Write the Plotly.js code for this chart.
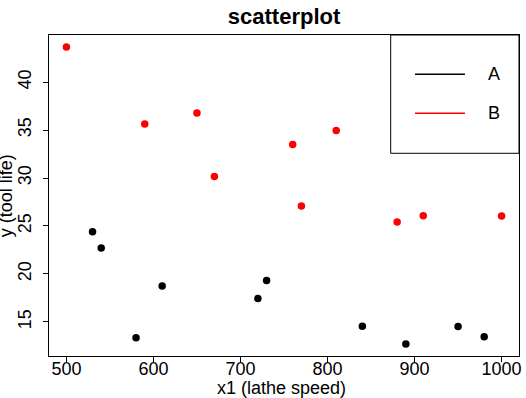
<!DOCTYPE html>
<html>
<head>
<meta charset="utf-8">
<script src="https://cdn.plot.ly/plotly-3.0.1.min.js"></script>
<style>html,body{margin:0;padding:0;background:#fff;}#chart{width:526px;height:398px;}</style>
</head>
<body>
<div id="chart"></div>
<script>
// Data
var seriesNames = ["A", "B"];
var seriesColors = ["#000000", "#ff0000"];
var speedA = [610, 950, 720, 840, 980, 530, 580, 540, 890, 730];
var lifeA  = [18.73, 14.52, 17.43, 14.54, 13.44, 24.39, 13.34, 22.71, 12.68, 19.32];
var speedB = [670, 770, 880, 1000, 760, 590, 910, 650, 810, 500];
var lifeB  = [30.16, 27.09, 25.40, 26.05, 33.49, 35.62, 26.07, 36.78, 34.95, 43.67];
var xTicks = [500, 600, 700, 800, 900, 1000];
var yTicks = [15, 20, 25, 30, 35, 40];
var xTitle = "x1 (lathe speed)";
var yTitle = "y (tool life)";
var chartTitle = "scatterplot";

var FONT = "Liberation Sans, Arial, Helvetica, sans-serif";

// R-style 4% axis extension
function rRange(arrs) {
  var all = [].concat.apply([], arrs);
  var mn = Math.min.apply(null, all), mx = Math.max.apply(null, all);
  var d = (mx - mn) * 0.04;
  return [mn - d, mx + d];
}
var xr = rRange([speedA, speedB]);
var yr = rRange([lifeA, lifeB]);

var traces = [
  {x: speedA, y: lifeA, name: seriesNames[0], type: "scatter", mode: "markers",
   marker: {color: seriesColors[0], size: 7.5}, showlegend: false, cliponaxis: false},
  {x: speedB, y: lifeB, name: seriesNames[1], type: "scatter", mode: "markers",
   marker: {color: seriesColors[1], size: 7.5}, showlegend: false, cliponaxis: false}
];

// Legend box drawn R-style (box, line samples, labels) in paper coordinates
var lgLeft = 0.727, lgRight = 1.0, lgBottom = 0.6315, lgTop = 1.0;
var lineX0 = 0.7787, lineX1 = 0.885, labelX = 0.929;
var rowY = [0.8776, 0.756];
var shapes = [
  {type: "rect", xref: "paper", yref: "paper", x0: lgLeft, x1: lgRight, y0: lgBottom, y1: lgTop,
   line: {color: "#000", width: 1}, fillcolor: "#fff", layer: "above"}
];
var annotations = [];
for (var i = 0; i < seriesNames.length; i++) {
  shapes.push({type: "line", xref: "paper", yref: "paper", x0: lineX0, x1: lineX1, y0: rowY[i], y1: rowY[i],
    line: {color: seriesColors[i], width: 1.5}, layer: "above"});
  annotations.push({xref: "paper", yref: "paper", x: labelX, y: rowY[i], xanchor: "left", yanchor: "middle",
    text: seriesNames[i], showarrow: false, font: {family: FONT, size: 18, color: "#000"}});
}
// axis titles (y title partially clipped at the left edge like the reference)
annotations.push({xref: "paper", yref: "paper", x: -0.092, y: 0.5, xanchor: "center", yanchor: "middle",
  text: yTitle, textangle: -90, showarrow: false, font: {family: FONT, size: 18, color: "#000"}});
annotations.push({xref: "paper", yref: "paper", x: 0.4957, y: -0.0997, xanchor: "center", yanchor: "middle",
  text: xTitle, showarrow: false, font: {family: FONT, size: 18, color: "#000"}});

var layout = {
  width: 526, height: 398,
  margin: {l: 49, r: 7, t: 35, b: 42, pad: 0},
  paper_bgcolor: "#fff", plot_bgcolor: "#fff",
  font: {family: FONT, size: 18, color: "#000"},
  showlegend: false,
  title: {text: "<b>" + chartTitle + "</b>", font: {family: FONT, size: 22, color: "#000"},
          x: 0.54, xref: "container", xanchor: "center", y: 0.958, yref: "container", yanchor: "middle"},
  xaxis: {range: xr, tickvals: xTicks, ticktext: xTicks.map(String), ticks: "outside", ticklen: 5,
          tickcolor: "#000", tickwidth: 1, showgrid: false, zeroline: false, ticklabelstandoff: -9,
          showline: true, linecolor: "#000", linewidth: 1, mirror: true,
          tickfont: {family: FONT, size: 18, color: "#000"}},
  yaxis: {range: yr, tickvals: yTicks, ticktext: yTicks.map(String), ticks: "outside", ticklen: 5,
          tickcolor: "#000", tickwidth: 1, showgrid: false, zeroline: false, tickangle: -90,
          ticklabelstandoff: 5,
          showline: true, linecolor: "#000", linewidth: 1, mirror: true,
          tickfont: {family: FONT, size: 18, color: "#000"}},
  shapes: shapes,
  annotations: annotations
};

Plotly.newPlot("chart", traces, layout, {displayModeBar: false, staticPlot: true});
</script>
</body>
</html>
